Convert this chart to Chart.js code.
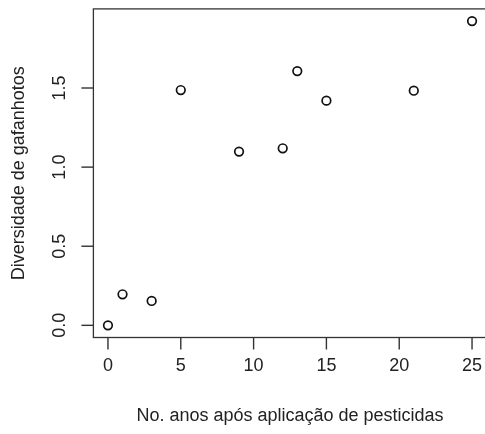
<!DOCTYPE html>
<html>
<head>
<meta charset="utf-8">
<script src="https://cdn.jsdelivr.net/npm/chart.js@4"></script>
<style>
  html, body { margin: 0; padding: 0; background: #fff; overflow: hidden; }
  #wrap { width: 490px; height: 434px; }
</style>
</head>
<body>
<div id="wrap"><canvas id="chart" width="490" height="434"></canvas></div>
<script>
// anos após aplicação vs diversidade
const anos = [0, 1, 3, 5, 9, 12, 13, 15, 21, 25];
const diversidade = [0.0, 0.196, 0.154, 1.487, 1.098, 1.119, 1.607, 1.42, 1.483, 1.923];
const xTicks = [0, 5, 10, 15, 20, 25];
const yTicks = [0, 0.5, 1.0, 1.5];

const textColor = '#222';
const lineColor = '#333';
const tickLen = 12;
const font = { family: '"Liberation Sans", Arial, sans-serif', size: 18 };

// R style box around the plot area plus outward tick marks
const boxPlugin = {
    id: 'box',
    afterDraw(chart) {
        const { ctx, chartArea: a, scales } = chart;
        ctx.save();
        ctx.strokeStyle = lineColor;
        ctx.lineWidth = 1.3;
        ctx.strokeRect(a.left, a.top, a.right - a.left, a.bottom - a.top);
        ctx.fillStyle = lineColor;
        xTicks.forEach((v) => {
            const px = scales.x.getPixelForValue(v);
            ctx.fillRect(px - 0.7, a.bottom, 1.4, tickLen);
        });
        yTicks.forEach((v) => {
            const py = scales.y.getPixelForValue(v);
            ctx.fillRect(a.left - tickLen, py - 0.7, tickLen, 1.4);
        });
        ctx.restore();
    },
};

new Chart(document.getElementById('chart').getContext('2d'), {
    type: 'scatter',
    data: {
        datasets: [
            {
                data: anos.map((x, i) => ({ x: x, y: diversidade[i] })),
                pointStyle: 'circle',
                pointRadius: 4.3,
                pointBorderWidth: 1.7,
                pointBorderColor: '#111',
                pointBackgroundColor: 'rgba(0,0,0,0)',
            },
        ],
    },
    options: {
        responsive: false,
        animation: false,
        events: [],
        layout: { autoPadding: false, padding: { left: 0, right: 3.4, top: 8.9, bottom: 0 } },
        plugins: {
            legend: { display: false },
            tooltip: { enabled: false },
        },
        scales: {
            x: {
                type: 'linear',
                min: -1,
                max: 26,
                afterBuildTicks: (scale) => {
                    scale.ticks = xTicks.map((v) => ({ value: v }));
                },
                afterFit: (scale) => {
                    scale.height = 96.5;
                    scale.paddingLeft = 0;
                    scale.paddingRight = 0;
                },
                border: { display: false },
                grid: {
                    display: false,
                    drawTicks: true,
                    tickLength: tickLen,
                },
                ticks: {
                    color: textColor,
                    font: font,
                    padding: 6,
                    maxRotation: 0,
                    autoSkip: false,
                },
                title: {
                    display: true,
                    text: 'No. anos após aplicação de pesticidas',
                    color: textColor,
                    font: font,
                    padding: { top: 0, bottom: 7 },
                },
            },
            y: {
                type: 'linear',
                min: -0.0769,
                max: 2.0,
                afterBuildTicks: (scale) => {
                    scale.ticks = yTicks.map((v) => ({ value: v }));
                },
                afterFit: (scale) => {
                    scale.width = 93.4;
                    scale.paddingTop = 0;
                    scale.paddingBottom = 0;
                },
                border: { display: false },
                grid: {
                    display: false,
                    drawTicks: true,
                    tickLength: tickLen,
                },
                ticks: {
                    color: textColor,
                    font: font,
                    minRotation: 90,
                    maxRotation: 90,
                    crossAlign: 'center',
                    padding: 8.4,
                    callback: (v) => Number(v).toFixed(1),
                },
                title: {
                    display: true,
                    text: 'Diversidade de gafanhotos',
                    color: textColor,
                    font: font,
                    padding: { top: 8, bottom: 0 },
                },
            },
        },
    },
    plugins: [boxPlugin],
});
</script>
</body>
</html>
